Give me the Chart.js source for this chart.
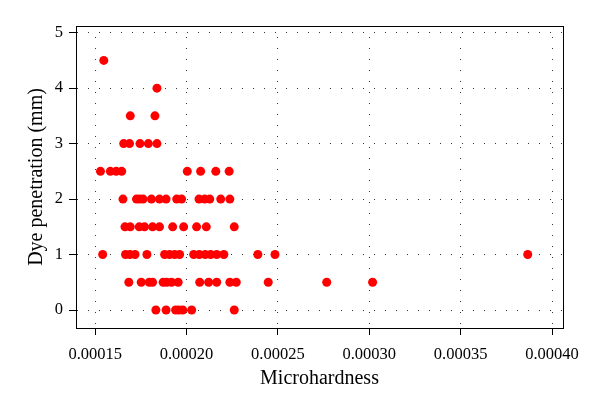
<!DOCTYPE html>
<html><head><meta charset="utf-8">
<script src="https://cdn.jsdelivr.net/npm/chart.js@4/dist/chart.umd.min.js"></script>
<style>html,body{margin:0;padding:0;background:#fff;}#wrap{width:600px;height:411px;}</style>
</head><body><div id="wrap"><canvas id="c" width="600" height="411"></canvas></div>
<script>
// Data
const microhardness = [
  0.0001547,
  0.0001838,
  0.0001692, 0.0001827,
  0.0001656, 0.0001688, 0.0001745, 0.0001791, 0.0001838,
  0.0001529, 0.0001583, 0.0001615, 0.0001645, 0.0002004, 0.0002077, 0.0002160, 0.0002233,
  0.0001652, 0.0001726, 0.0001743, 0.0001762, 0.0001808, 0.0001852, 0.0001888, 0.0001946, 0.0001973, 0.0002068, 0.0002099, 0.0002127, 0.0002187, 0.0002237,
  0.0001663, 0.0001692, 0.0001741, 0.0001770, 0.0001814, 0.0001852, 0.0001924, 0.0001984, 0.0002055, 0.0002108, 0.0002261,
  0.0001541, 0.0001666, 0.0001690, 0.0001718, 0.0001783, 0.0001880, 0.0001907, 0.0001935, 0.0001962, 0.0002039, 0.0002069, 0.0002102, 0.0002132, 0.0002165, 0.0002204, 0.0002390, 0.0002484, 0.0003867,
  0.0001684, 0.0001752, 0.0001796, 0.0001814, 0.0001872, 0.0001891, 0.0001918, 0.0001954, 0.0002072, 0.0002121, 0.0002165, 0.0002237, 0.0002272, 0.0002447, 0.0002767, 0.0003018,
  0.0001832, 0.0001888, 0.0001940, 0.0001957, 0.0001979, 0.0002028, 0.0002261
];
const dyePenetration = [
  4.5,
  4,
  3.5, 3.5,
  3, 3, 3, 3, 3,
  2.5, 2.5, 2.5, 2.5, 2.5, 2.5, 2.5, 2.5,
  2, 2, 2, 2, 2, 2, 2, 2, 2, 2, 2, 2, 2, 2,
  1.5, 1.5, 1.5, 1.5, 1.5, 1.5, 1.5, 1.5, 1.5, 1.5, 1.5,
  1, 1, 1, 1, 1, 1, 1, 1, 1, 1, 1, 1, 1, 1, 1, 1, 1, 1,
  0.5, 0.5, 0.5, 0.5, 0.5, 0.5, 0.5, 0.5, 0.5, 0.5, 0.5, 0.5, 0.5, 0.5, 0.5, 0.5,
  0, 0, 0, 0, 0, 0, 0
];
const xTicks = [0.00015, 0.00020, 0.00025, 0.00030, 0.00035, 0.00040];
const yTicks = [0, 1, 2, 3, 4, 5];
const xTitle = 'Microhardness';
const yTitle = 'Dye penetration (mm)';

const points = microhardness.map((x, i) => ({x: x, y: dyePenetration[i]}));

const frame = {
  id: 'frame',
  beforeDatasetsDraw(chart) {
    const a = chart.chartArea, ctx = chart.ctx;
    ctx.save();
    ctx.strokeStyle = '#000';
    ctx.lineWidth = 1;
    ctx.strokeRect(Math.round(a.left) + 0.5, Math.round(a.top) + 0.5, Math.round(a.right - a.left), Math.round(a.bottom - a.top));
    ctx.restore();
  }
};

const FONT = "'Liberation Serif', 'Times New Roman', serif";

new Chart(document.getElementById('c'), {
  type: 'scatter',
  data: { datasets: [{ data: points, backgroundColor: '#ff0000', borderColor: '#ff0000', borderWidth: 0, pointRadius: 4.5, pointHoverRadius: 4.5 }] },
  options: {
    responsive: false,
    animation: false,
    devicePixelRatio: 1,
    layout: { padding: { left: 0, right: 37, top: 26, bottom: 0 } },
    plugins: { legend: { display: false }, tooltip: { enabled: false } },
    scales: {
      x: {
        type: 'linear',
        min: 0.0001395, max: 0.000406,
        afterBuildTicks: s => { s.ticks = xTicks.map(v => ({value: v})); },
        afterFit: s => { s.height = 83; },
        grid: { color: '#333', lineWidth: 1, drawTicks: true, tickLength: 7, tickColor: '#000', tickWidth: 1, tickBorderDash: [] },
        border: { display: true, color: '#000', width: 1, dash: [1, 10] },
        ticks: { color: '#000', padding: 10, maxRotation: 0, autoSkip: false, font: { family: FONT, size: 16.5 }, callback: v => Number(v).toFixed(5) },
        title: { display: true, text: xTitle, color: '#000', font: { family: FONT, size: 20 }, padding: { top: 0, bottom: 20 } }
      },
      y: {
        type: 'linear',
        min: -0.324, max: 5.12,
        afterBuildTicks: s => { s.ticks = yTicks.map(v => ({value: v})); },
        afterFit: s => { s.width = 76; },
        grid: { color: '#333', lineWidth: 1, drawTicks: true, tickLength: 7, tickColor: '#000', tickWidth: 1, tickBorderDash: [] },
        border: { display: true, color: '#000', width: 1, dash: [1, 10] },
        ticks: { color: '#000', padding: 6, autoSkip: false, font: { family: FONT, size: 16.5 }, callback: v => String(v) },
        title: { display: true, text: yTitle, color: '#000', font: { family: FONT, size: 20 }, padding: { top: 25, bottom: 0 } }
      }
    }
  },
  plugins: [frame]
});
</script>
</body></html>
